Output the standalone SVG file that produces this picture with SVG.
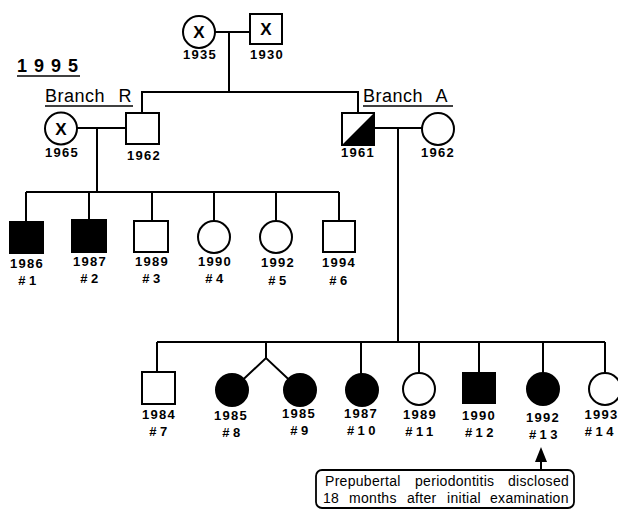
<svg xmlns="http://www.w3.org/2000/svg" width="618" height="510" viewBox="0 0 618 510">
<style>
.ln{stroke:#000;stroke-width:2;fill:none}
.sym{stroke:#000;stroke-width:2;fill:#fff}
.aff{stroke:#000;stroke-width:2;fill:#000}
.yr{font-family:"Liberation Sans",Arial,sans-serif;font-size:13px;font-weight:bold;letter-spacing:1.3px;text-anchor:middle;fill:#000}
.id{font-family:"Liberation Sans",Arial,sans-serif;font-size:13px;font-weight:bold;letter-spacing:3.5px;text-anchor:middle;fill:#000}
.end{text-anchor:end}
.x{font-family:"Liberation Sans",Arial,sans-serif;font-size:17px;font-weight:bold;text-anchor:middle;fill:#000}
.hd{font-family:"Liberation Sans",Arial,sans-serif;font-size:18px;fill:#000}
.note{font-family:"Liberation Sans",Arial,sans-serif;font-size:14px;letter-spacing:0.3px;fill:#000}
</style>
<rect width="618" height="510" fill="#fff"/>
<g id="connectors">
<line class="ln" x1="215" y1="32" x2="250" y2="32"/>
<line class="ln" x1="229" y1="32" x2="229" y2="92"/>
<polyline class="ln" points="142,113 142,92 358,92 358,113"/>
<line class="ln" x1="77" y1="128" x2="126" y2="128"/>
<line class="ln" x1="97" y1="128" x2="97" y2="192"/>
<line class="ln" x1="26" y1="192" x2="339" y2="192"/>
<line class="ln" x1="26" y1="192" x2="26" y2="222"/>
<line class="ln" x1="89" y1="192" x2="89" y2="220"/>
<line class="ln" x1="152" y1="192" x2="152" y2="221"/>
<line class="ln" x1="214" y1="192" x2="214" y2="221"/>
<line class="ln" x1="276" y1="192" x2="276" y2="221"/>
<line class="ln" x1="339" y1="192" x2="339" y2="221"/>
<line class="ln" x1="374" y1="128" x2="422" y2="128"/>
<line class="ln" x1="398" y1="128" x2="398" y2="342"/>
<line class="ln" x1="157" y1="342" x2="605" y2="342"/>
<line class="ln" x1="157" y1="342" x2="157" y2="372"/>
<line class="ln" x1="266" y1="342" x2="266" y2="358"/>
<polyline class="ln" points="232,390 266,358 300,390"/>
<line class="ln" x1="361" y1="342" x2="361" y2="374"/>
<line class="ln" x1="419" y1="342" x2="419" y2="373"/>
<line class="ln" x1="479" y1="342" x2="479" y2="373"/>
<line class="ln" x1="543" y1="342" x2="543" y2="373"/>
<line class="ln" x1="605" y1="342" x2="605" y2="373"/>
<line class="ln" x1="541" y1="460" x2="541" y2="470"/>
<polygon points="541,447 535,462 547,462" fill="#000"/>
</g>
<g id="title">
<text class="hd" x="17" y="72" font-weight="bold" letter-spacing="7">1995</text>
<line x1="17" y1="76" x2="80" y2="76" stroke="#000" stroke-width="1.5"/>
</g>
<g id="branchR">
<text class="hd" x="45" y="102" letter-spacing="0.5" word-spacing="8">Branch R</text>
<line x1="45" y1="106" x2="133" y2="106" stroke="#000" stroke-width="1.5"/>
</g>
<g id="branchA">
<text class="hd" x="363" y="102" letter-spacing="0.5" word-spacing="8">Branch A</text>
<line x1="363" y1="106" x2="453" y2="106" stroke="#000" stroke-width="1.5"/>
</g>
<g id="gm1935">
<circle class="sym" cx="199" cy="32" r="16"/>
<text class="x" x="199" y="38">X</text>
<text class="yr" x="200" y="59">1935</text>
</g>
<g id="gf1930">
<rect class="sym" x="250" y="14" width="32" height="30"/>
<text class="x" x="266" y="35">X</text>
<text class="yr" x="267" y="59">1930</text>
</g>
<g id="r1965">
<circle class="sym" cx="61" cy="128.5" r="16"/>
<text class="x" x="61" y="135">X</text>
<text class="yr" x="62" y="157">1965</text>
</g>
<g id="r1962">
<rect class="sym" x="126" y="113" width="33" height="31"/>
<text class="yr" x="144" y="160">1962</text>
</g>
<g id="a1961">
<rect class="sym" x="342" y="113" width="32" height="32"/>
<polygon points="342,145 374,113 374,145" fill="#000"/>
<text class="yr" x="358" y="157">1961</text>
</g>
<g id="a1962">
<circle class="sym" cx="438" cy="129" r="16"/>
<text class="yr" x="438" y="157">1962</text>
</g>
<g id="c1">
<rect class="aff" x="10" y="222" width="33" height="31"/>
<text class="yr" x="27" y="268">1986</text>
<text class="id" x="29" y="285">#1</text>
</g>
<g id="c2">
<rect class="aff" x="72" y="220" width="34" height="32"/>
<text class="yr" x="90" y="266">1987</text>
<text class="id" x="91" y="283">#2</text>
</g>
<g id="c3">
<rect class="sym" x="134" y="221" width="34" height="31"/>
<text class="yr" x="152" y="266">1989</text>
<text class="id" x="153" y="283">#3</text>
</g>
<g id="c4">
<circle class="sym" cx="214" cy="237" r="16"/>
<text class="yr" x="215" y="266">1990</text>
<text class="id" x="216" y="283">#4</text>
</g>
<g id="c5">
<circle class="sym" cx="276" cy="237" r="16"/>
<text class="yr" x="278" y="267">1992</text>
<text class="id" x="279" y="285">#5</text>
</g>
<g id="c6">
<rect class="sym" x="323" y="221" width="32" height="31"/>
<text class="yr" x="339" y="267">1994</text>
<text class="id" x="340" y="285">#6</text>
</g>
<g id="c7">
<rect class="sym" x="142" y="372" width="33" height="32"/>
<text class="yr" x="159" y="419">1984</text>
<text class="id" x="160" y="436">#7</text>
</g>
<g id="c8">
<circle class="aff" cx="232" cy="390" r="16"/>
<text class="yr" x="231" y="420">1985</text>
<text class="id" x="233" y="437">#8</text>
</g>
<g id="c9">
<circle class="aff" cx="300" cy="390" r="16"/>
<text class="yr" x="299" y="418">1985</text>
<text class="id" x="301" y="435">#9</text>
</g>
<g id="c10">
<circle class="aff" cx="362" cy="390" r="16"/>
<text class="yr" x="361" y="418">1987</text>
<text class="id" x="363" y="435">#10</text>
</g>
<g id="c11">
<circle class="sym" cx="419" cy="389" r="16"/>
<text class="yr" x="420" y="419">1989</text>
<text class="id" x="421" y="436">#11</text>
</g>
<g id="c12">
<rect class="aff" x="463" y="373" width="32" height="30"/>
<text class="yr" x="479" y="420">1990</text>
<text class="id" x="481" y="437">#12</text>
</g>
<g id="c13">
<circle class="aff" cx="543" cy="389" r="16"/>
<text class="yr" x="543" y="422">1992</text>
<text class="id" x="545" y="439">#13</text>
</g>
<g id="c14">
<circle class="sym" cx="605" cy="389" r="16"/>
<text class="yr end" x="618.5" y="419">1993</text>
<text class="id end" x="617" y="436">#14</text>
</g>
<g id="note">
<rect x="316" y="470" width="258" height="38" rx="6" fill="#fff" stroke="#000" stroke-width="1.8"/>
<text class="note" y="486"><tspan x="325">Prepubertal</tspan><tspan x="415">periodontitis</tspan><tspan x="508">disclosed</tspan></text>
<text class="note" y="503"><tspan x="323">18</tspan><tspan x="349">months</tspan><tspan x="407">after</tspan><tspan x="447">initial</tspan><tspan x="490">examination</tspan></text>
</g>
</svg>
